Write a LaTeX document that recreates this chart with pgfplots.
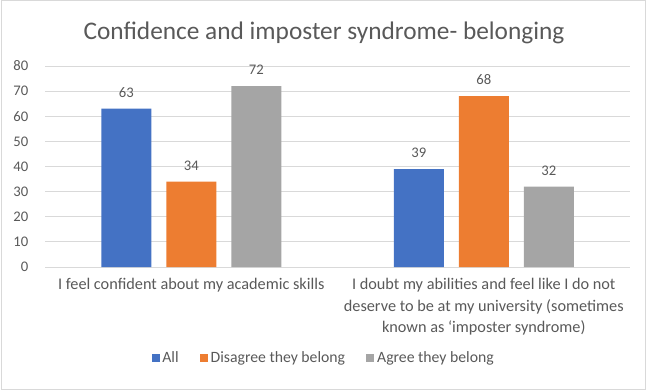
\documentclass[border=0pt]{standalone}
\usepackage{fontspec}
\setmainfont{Carlito}
\usepackage{pgfplots}
\pgfplotsset{compat=1.18}
\definecolor{cBlue}{HTML}{4472C4}
\definecolor{cOrange}{HTML}{ED7D31}
\definecolor{cGray}{HTML}{A5A5A5}
\definecolor{cGrid}{HTML}{D9D9D9}
\definecolor{cText}{HTML}{595959}
\begin{document}
\begin{tikzpicture}[x=0.75pt,y=0.75pt]
\useasboundingbox (0,0) rectangle (646,390);
\draw[cGrid, line width=0.75pt] (1,1) rectangle (645,389);
\node[text=cText, font=\fontsize{19}{23}\selectfont] at (324,357) {Confidence and imposter syndrome- belonging};
\begin{axis}[
  at={(33.75pt,92.25pt)}, anchor=south west,
  scale only axis, width=438.75pt, height=150.75pt,
  ybar=11.25pt, bar width=37.5pt,
  xmin=-0.5, xmax=1.5, ymin=0, ymax=80,
  xtick={0,1},
  xticklabels={{I feel confident about my academic skills},{I doubt my abilities and feel like I do not\\deserve to be at my university (sometimes\\known as ‘imposter syndrome)}},
  ytick={0,10,...,80},
  ymajorgrids, grid style={cGrid, line width=0.75pt},
  axis line style={draw=none},
  tick style={draw=none}, major tick length=0pt,
  /pgf/number format/assume math mode=true,
  yticklabel style={text=cText, font=\fontsize{11}{13}\selectfont, xshift=-9pt},
  xticklabel style={text=cText, font=\fontsize{12.2}{16}\selectfont, align=center, yshift=-5pt},
  nodes near coords,
  every node near coord/.append style={text=cText, font=\fontsize{11}{13}\selectfont, yshift=5pt},
  clip=false,
  legend columns=3,
  legend style={draw=none, fill=none, at={(0.477,-0.453)}, anchor=center, font=\fontsize{11.8}{14}\selectfont, text=cText,
    /tikz/every even column/.append style={column sep=14pt}},
  legend image code/.code={\fill[#1] (0pt,-3pt) rectangle (6pt,3pt);},
]
\addplot[fill=cBlue, draw=none] coordinates {(0,63) (1,39)};
\addplot[fill=cOrange, draw=none] coordinates {(0,34) (1,68)};
\addplot[fill=cGray, draw=none] coordinates {(0,72) (1,32)};
\legend{All,Disagree they belong,Agree they belong}
\end{axis}
\end{tikzpicture}
\end{document}
